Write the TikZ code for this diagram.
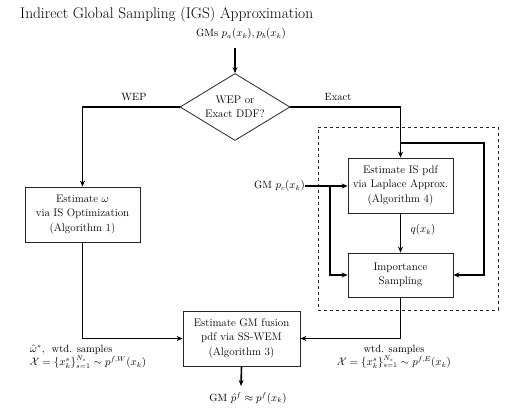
\documentclass[tikz,border=0pt]{standalone}
\usetikzlibrary{shapes.geometric,arrows.meta}
\begin{document}
\begin{tikzpicture}[x=1pt,y=-1pt,
  every node/.style={font=\fontsize{11}{14.5}\selectfont},
  box/.style={draw=black!85, line width=0.8pt, align=center, inner sep=0pt},
  conn/.style={line width=1.6pt, -{Stealth[length=6pt,width=5pt]}},
  lbl/.style={font=\fontsize{10.5}{13.5}\selectfont, inner sep=0pt}]
\useasboundingbox (0,0) rectangle (517,409);
\node[anchor=west, font=\fontsize{15.4}{18}\selectfont, inner sep=0pt] (title) at (20,15) {Indirect Global Sampling (IGS) Approximation};
\node[lbl] (gms) at (241,34) {GMs $p_a(x_k), p_b(x_k)$};
\coordinate (gmsa) at (235,48);
\node[diamond, draw=black!85, line width=0.8pt, aspect=1.64, minimum width=110pt, minimum height=67pt, inner sep=0pt, align=center] (d) at (235,107) {WEP or\\Exact DDF?};
\node[box, minimum width=115pt, minimum height=55pt] (b1) at (82.5,214.5) {Estimate $\omega$\\via IS Optimization\\(Algorithm 1)};
\node[box, minimum width=105pt, minimum height=55pt] (b2) at (400.5,185.5) {Estimate IS pdf\\via Laplace Approx.\\(Algorithm 4)};
\node[box, minimum width=105pt, minimum height=44pt] (b3) at (400.5,275) {Importance\\Sampling};
\node[box, minimum width=117pt, minimum height=55pt] (b4) at (241.5,338.5) {Estimate GM fusion\\pdf via SS-WEM\\(Algorithm 3)};
\node[draw=black!85, dashed, line width=0.8pt, minimum width=180pt, minimum height=183pt, inner sep=0pt] (frame) at (408,218.5) {};
\node[lbl] (wep) at (134,97) {WEP};
\node[lbl] (exact) at (338,97) {Exact};
\node[lbl, anchor=east] (gmc) at (305,186) {GM $p_c(x_k)$};
\node[lbl] (q) at (423,230) {$q(x_k)$};
\node[lbl] (out) at (248,398) {GM $\hat p^f \approx p^f(x_k)$};
\node[lbl, align=left] (wl) at (88,356.5) {$\hat\omega^*$,~ wtd. samples\\$\mathcal{X}=\{x_k^s\}_{s=1}^{N_s}\sim p^{f,W}(x_k)$};
\node[lbl, align=center] (wr) at (394,356.5) {wtd. samples\\$\mathcal{X}=\{x_k^s\}_{s=1}^{N_s}\sim p^{f,E}(x_k)$};
\coordinate (j) at (400,143);
\coordinate (r) at (484,143);
\coordinate (k) at (330,186);
\coordinate (outa) at (241,386);
\draw[conn] (gmsa) -- (d.north);
\draw[conn] (d.west) -| (b1.north);
\draw[conn] (d.east) -| (b2.north);
\draw[conn] (j) -- (r) |- (b3.east);
\draw[conn] (gmc.east) -- (b2.west |- gmc.east);
\draw[conn] (k) |- (b3.west);
\draw[conn] (b2.south) -- (b3.north);
\draw[conn] (b3.south) |- (b4.east);
\draw[conn] (b1.south) |- (b4.west);
\draw[conn] (b4.south) -- (outa);
\end{tikzpicture}
\end{document}
